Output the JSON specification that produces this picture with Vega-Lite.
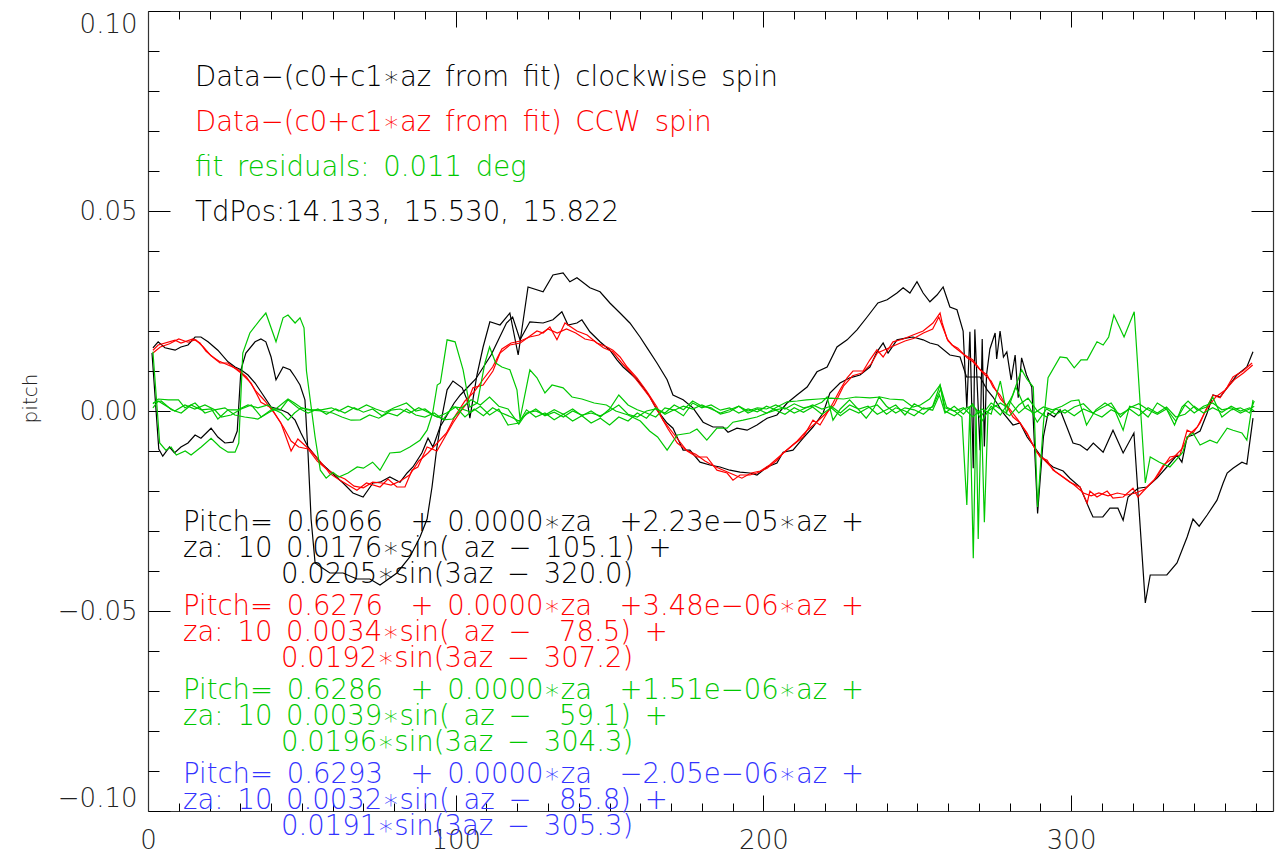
{
"$schema":"https://vega.github.io/schema/vega-lite/v6.json",
"width":1125,"height":800,
"autosize":{"type":"none"},
"padding":{"left":148,"top":11,"right":8,"bottom":49},
"background":"white",
"config":{"view":{"stroke":null},"font":"DejaVu Sans"},
"resolve":{"axis":{"x":"independent","y":"independent"}},
"datasets":{
"lines":[
{"s":"cw_1","x":1.6,"y":0.0158},{"s":"cw_1","x":3.3,"y":0.0173},{"s":"cw_1","x":5.5,"y":0.0158},{"s":"cw_1","x":8.8,"y":0.0152},{"s":"cw_1","x":10.7,"y":0.016},{"s":"cw_1","x":13,"y":0.0165},{"s":"cw_1","x":15.3,"y":0.0185},{"s":"cw_1","x":17.2,"y":0.0185},{"s":"cw_1","x":19.5,"y":0.0173},{"s":"cw_1","x":22.7,"y":0.0152},{"s":"cw_1","x":26,"y":0.0123},{"s":"cw_1","x":28.3,"y":0.011},{"s":"cw_1","x":30.2,"y":0.0103},{"s":"cw_1","x":32.5,"y":0.009},{"s":"cw_1","x":34.8,"y":0.007},{"s":"cw_1","x":37.4,"y":0.004},{"s":"cw_1","x":40,"y":0.001},{"s":"cw_1","x":43.2,"y":0.0003},{"s":"cw_1","x":45.5,"y":-0.0005},{"s":"cw_1","x":47.8,"y":-0.0023},{"s":"cw_1","x":49.7,"y":-0.0055},{"s":"cw_1","x":52,"y":-0.009},{"s":"cw_1","x":56.2,"y":-0.013},{"s":"cw_1","x":59.5,"y":-0.0153},{"s":"cw_1","x":63.4,"y":-0.018},{"s":"cw_1","x":66.6,"y":-0.0205},{"s":"cw_1","x":69.9,"y":-0.0215},{"s":"cw_1","x":73.1,"y":-0.018},{"s":"cw_1","x":75.4,"y":-0.0178},{"s":"cw_1","x":78.6,"y":-0.0165},{"s":"cw_1","x":81.9,"y":-0.0178},{"s":"cw_1","x":84.2,"y":-0.0155},{"s":"cw_1","x":86.1,"y":-0.014},{"s":"cw_1","x":89,"y":-0.0105},{"s":"cw_1","x":91,"y":-0.0068},{"s":"cw_1","x":92.6,"y":-0.009},{"s":"cw_1","x":94.9,"y":-0.004},{"s":"cw_1","x":97.2,"y":-0.001},{"s":"cw_1","x":99.5,"y":0.002},{"s":"cw_1","x":101.5,"y":0.004},{"s":"cw_1","x":104,"y":0.006},{"s":"cw_1","x":106.5,"y":0.008},{"s":"cw_1","x":109,"y":0.011},{"s":"cw_1","x":111.5,"y":0.014},{"s":"cw_1","x":114,"y":0.018},{"s":"cw_1","x":116.5,"y":0.022},{"s":"cw_1","x":118.5,"y":0.0235},{"s":"cw_1","x":120.9,"y":0.0178},{"s":"cw_1","x":124.1,"y":0.0223},{"s":"cw_1","x":128.4,"y":0.022},{"s":"cw_1","x":131.6,"y":0.0228},{"s":"cw_1","x":134.5,"y":0.0248},{"s":"cw_1","x":136.5,"y":0.0215},{"s":"cw_1","x":139.4,"y":0.022},{"s":"cw_1","x":141,"y":0.0228},{"s":"cw_1","x":143.6,"y":0.0198},{"s":"cw_1","x":146.9,"y":0.0173},{"s":"cw_1","x":150.1,"y":0.0152},{"s":"cw_1","x":152.4,"y":0.0128},{"s":"cw_1","x":154.4,"y":0.011},{"s":"cw_1","x":156.6,"y":0.0095},{"s":"cw_1","x":158.7,"y":0.008},{"s":"cw_1","x":160.9,"y":0.006},{"s":"cw_1","x":163.1,"y":0.0035},{"s":"cw_1","x":165.4,"y":0.0003},{"s":"cw_1","x":168.7,"y":-0.003},{"s":"cw_1","x":170.6,"y":-0.0043},{"s":"cw_1","x":173.9,"y":-0.0098},{"s":"cw_1","x":176.1,"y":-0.0098},{"s":"cw_1","x":179.4,"y":-0.0128},{"s":"cw_1","x":182.6,"y":-0.0135},{"s":"cw_1","x":185.9,"y":-0.014},{"s":"cw_1","x":189.1,"y":-0.0148},{"s":"cw_1","x":192.4,"y":-0.0153},{"s":"cw_1","x":195.6,"y":-0.0155},{"s":"cw_1","x":197.9,"y":-0.016},{"s":"cw_1","x":201.2,"y":-0.014},{"s":"cw_1","x":204.4,"y":-0.013},{"s":"cw_1","x":206.4,"y":-0.0103},{"s":"cw_1","x":209.6,"y":-0.0098},{"s":"cw_1","x":212.9,"y":-0.0068},{"s":"cw_1","x":216.1,"y":-0.004},{"s":"cw_1","x":219.4,"y":-0.0005},{"s":"cw_1","x":221.6,"y":0.0045},{"s":"cw_1","x":224.9,"y":0.007},{"s":"cw_1","x":228.1,"y":0.0083},{"s":"cw_1","x":231.4,"y":0.009},{"s":"cw_1","x":234.6,"y":0.011},{"s":"cw_1","x":236.9,"y":0.0148},{"s":"cw_1","x":238.9,"y":0.017},{"s":"cw_1","x":240.5,"y":0.0145},{"s":"cw_1","x":243.4,"y":0.0178},{"s":"cw_1","x":246.7,"y":0.0183},{"s":"cw_1","x":248.6,"y":0.0185},{"s":"cw_1","x":251.9,"y":0.0178},{"s":"cw_1","x":254.1,"y":0.017},{"s":"cw_1","x":256.7,"y":0.0165},{"s":"cw_1","x":260.6,"y":0.014},{"s":"cw_1","x":263.9,"y":0.0135},{"s":"cw_1","x":266,"y":0.0085},{"s":"cw_1","x":268,"y":0.0085},{"s":"cw_1","x":270.4,"y":0.0085},{"s":"cw_1","x":272.7,"y":0.0053},{"s":"cw_1","x":274.6,"y":0.0035},{"s":"cw_1","x":277.9,"y":-0.0005},{"s":"cw_1","x":281.1,"y":-0.0035},{"s":"cw_1","x":283.4,"y":-0.003},{"s":"cw_1","x":285.7,"y":-0.0065},{"s":"cw_1","x":287.6,"y":-0.0085},{"s":"cw_1","x":289.9,"y":-0.011},{"s":"cw_1","x":292.2,"y":-0.0128},{"s":"cw_1","x":294.1,"y":-0.014},{"s":"cw_1","x":297.4,"y":-0.015},{"s":"cw_1","x":299.6,"y":-0.0168},{"s":"cw_1","x":302.9,"y":-0.019},{"s":"cw_1","x":306.1,"y":-0.0248},{"s":"cw_1","x":307.1,"y":-0.0265},{"s":"cw_1","x":310.3,"y":-0.0265},{"s":"cw_1","x":312.6,"y":-0.0243},{"s":"cw_1","x":315.2,"y":-0.0243},{"s":"cw_1","x":316.9,"y":-0.0273},{"s":"cw_1","x":318.5,"y":-0.0215},{"s":"cw_1","x":321.7,"y":-0.0193},{"s":"cw_1","x":324.7,"y":-0.019},{"s":"cw_1","x":327.9,"y":-0.0168},{"s":"cw_1","x":331.1,"y":-0.014},{"s":"cw_1","x":334.4,"y":-0.011},{"s":"cw_1","x":336,"y":-0.0128},{"s":"cw_1","x":337.7,"y":-0.0065},{"s":"cw_1","x":339.6,"y":-0.006},{"s":"cw_1","x":341.9,"y":-0.005},{"s":"cw_1","x":344.2,"y":-0.0005},{"s":"cw_1","x":346.1,"y":0.004},{"s":"cw_1","x":348.4,"y":0.0035},{"s":"cw_1","x":350.7,"y":0.0058},{"s":"cw_1","x":353.9,"y":0.009},{"s":"cw_1","x":357.1,"y":0.011},{"s":"cw_1","x":359.1,"y":0.0148},
{"s":"cw_2","x":1.3,"y":0.0145},{"s":"cw_2","x":3.5,"y":-0.0095},{"s":"cw_2","x":4.8,"y":-0.0113},{"s":"cw_2","x":7,"y":-0.009},{"s":"cw_2","x":8.6,"y":-0.0105},{"s":"cw_2","x":10.7,"y":-0.009},{"s":"cw_2","x":13,"y":-0.008},{"s":"cw_2","x":15.3,"y":-0.006},{"s":"cw_2","x":17.2,"y":-0.0068},{"s":"cw_2","x":20.5,"y":-0.0043},{"s":"cw_2","x":22.7,"y":-0.0065},{"s":"cw_2","x":25,"y":-0.008},{"s":"cw_2","x":27.6,"y":-0.0078},{"s":"cw_2","x":29,"y":-0.005},{"s":"cw_2","x":30.2,"y":0.0103},{"s":"cw_2","x":31.8,"y":0.0145},{"s":"cw_2","x":34.8,"y":0.0173},{"s":"cw_2","x":36.7,"y":0.018},{"s":"cw_2","x":38.3,"y":0.0173},{"s":"cw_2","x":40,"y":0.0135},{"s":"cw_2","x":41.6,"y":0.0078},{"s":"cw_2","x":43.9,"y":0.011},{"s":"cw_2","x":46.2,"y":0.0103},{"s":"cw_2","x":47.8,"y":0.0085},{"s":"cw_2","x":49.4,"y":0.0065},{"s":"cw_2","x":51,"y":0.0028},{"s":"cw_2","x":52,"y":-0.0105},{"s":"cw_2","x":53,"y":-0.027},{"s":"cw_2","x":54.3,"y":-0.038},{"s":"cw_2","x":56.2,"y":-0.039},{"s":"cw_2","x":59.1,"y":-0.0405},{"s":"cw_2","x":63.4,"y":-0.0405},{"s":"cw_2","x":67.9,"y":-0.042},{"s":"cw_2","x":72.1,"y":-0.042},{"s":"cw_2","x":75.4,"y":-0.0435},{"s":"cw_2","x":80.9,"y":-0.0405},{"s":"cw_2","x":85.1,"y":-0.0365},{"s":"cw_2","x":88.4,"y":-0.0315},{"s":"cw_2","x":90.7,"y":-0.027},{"s":"cw_2","x":92.3,"y":-0.019},{"s":"cw_2","x":93.9,"y":-0.009},{"s":"cw_2","x":95.5,"y":-0.0015},{"s":"cw_2","x":97.2,"y":0.0053},{"s":"cw_2","x":99.1,"y":0.0075},{"s":"cw_2","x":102.1,"y":0.0058},{"s":"cw_2","x":103.7,"y":0.0028},{"s":"cw_2","x":104.6,"y":-0.0018},{"s":"cw_2","x":106.9,"y":0.009},{"s":"cw_2","x":108.9,"y":0.016},{"s":"cw_2","x":111.1,"y":0.0223},{"s":"cw_2","x":114.4,"y":0.0215},{"s":"cw_2","x":117.6,"y":0.0245},{"s":"cw_2","x":120.3,"y":0.014},{"s":"cw_2","x":123.5,"y":0.031},{"s":"cw_2","x":128.4,"y":0.0298},{"s":"cw_2","x":131.6,"y":0.034},{"s":"cw_2","x":134.9,"y":0.0345},{"s":"cw_2","x":137.1,"y":0.0323},{"s":"cw_2","x":139.4,"y":0.0333},{"s":"cw_2","x":143.6,"y":0.0308},{"s":"cw_2","x":146.9,"y":0.0298},{"s":"cw_2","x":150.1,"y":0.027},{"s":"cw_2","x":153.4,"y":0.0245},{"s":"cw_2","x":156.6,"y":0.022},{"s":"cw_2","x":159.9,"y":0.0185},{"s":"cw_2","x":162.2,"y":0.0158},{"s":"cw_2","x":165.4,"y":0.012},{"s":"cw_2","x":168.7,"y":0.0078},{"s":"cw_2","x":170.6,"y":0.004},{"s":"cw_2","x":173.9,"y":0.0028},{"s":"cw_2","x":177.1,"y":0.0008},{"s":"cw_2","x":180.4,"y":-0.0028},{"s":"cw_2","x":183.6,"y":-0.004},{"s":"cw_2","x":186.9,"y":-0.004},{"s":"cw_2","x":188.5,"y":-0.0053},{"s":"cw_2","x":191.4,"y":-0.0043},{"s":"cw_2","x":194.7,"y":-0.0048},{"s":"cw_2","x":197.9,"y":-0.0035},{"s":"cw_2","x":201.2,"y":-0.0018},{"s":"cw_2","x":204.4,"y":-0.001},{"s":"cw_2","x":207.7,"y":0.002},{"s":"cw_2","x":210.9,"y":0.004},{"s":"cw_2","x":214.2,"y":0.006},{"s":"cw_2","x":217.4,"y":0.0098},{"s":"cw_2","x":220.7,"y":0.011},{"s":"cw_2","x":223.9,"y":0.016},{"s":"cw_2","x":227.2,"y":0.0178},{"s":"cw_2","x":230.4,"y":0.0203},{"s":"cw_2","x":233.7,"y":0.0235},{"s":"cw_2","x":237.2,"y":0.027},{"s":"cw_2","x":240.2,"y":0.0278},{"s":"cw_2","x":243.4,"y":0.0295},{"s":"cw_2","x":245.4,"y":0.0308},{"s":"cw_2","x":247.6,"y":0.0295},{"s":"cw_2","x":249.9,"y":0.0323},{"s":"cw_2","x":251.9,"y":0.0295},{"s":"cw_2","x":254.1,"y":0.0273},{"s":"cw_2","x":256.4,"y":0.029},{"s":"cw_2","x":258.4,"y":0.031},{"s":"cw_2","x":260.6,"y":0.026},{"s":"cw_2","x":262.9,"y":0.0253},{"s":"cw_2","x":264.9,"y":0.02},{"s":"cw_2","x":266.1,"y":0.0007},{"s":"cw_2","x":267.1,"y":0.0198},{"s":"cw_2","x":268.2,"y":-0.0143},{"s":"cw_2","x":268.7,"y":0.0204},{"s":"cw_2","x":270.4,"y":-0.0098},{"s":"cw_2","x":271.1,"y":0.018},{"s":"cw_2","x":271.8,"y":-0.0089},{"s":"cw_2","x":272.5,"y":0.009},{"s":"cw_2","x":273.6,"y":0.0155},{"s":"cw_2","x":275.3,"y":0.0195},{"s":"cw_2","x":275.8,"y":0.013},{"s":"cw_2","x":276.9,"y":0.02},{"s":"cw_2","x":278,"y":0.0135},{"s":"cw_2","x":279.1,"y":0.0148},{"s":"cw_2","x":280.5,"y":0.0078},{"s":"cw_2","x":281.8,"y":0.014},{"s":"cw_2","x":282.8,"y":0.0033},{"s":"cw_2","x":283.9,"y":0.0133},{"s":"cw_2","x":285.5,"y":0.009},{"s":"cw_2","x":287.2,"y":0.006},{"s":"cw_2","x":289.1,"y":-0.0256},{"s":"cw_2","x":291,"y":-0.0064},{"s":"cw_2","x":292.5,"y":-0.0005},{"s":"cw_2","x":294.5,"y":-0.0015},{"s":"cw_2","x":296.4,"y":0.0003},{"s":"cw_2","x":298.6,"y":-0.004},{"s":"cw_2","x":300.6,"y":-0.008},{"s":"cw_2","x":302.9,"y":-0.0085},{"s":"cw_2","x":305.2,"y":-0.0098},{"s":"cw_2","x":307.2,"y":-0.008},{"s":"cw_2","x":310.4,"y":-0.0103},{"s":"cw_2","x":313.6,"y":-0.0048},{"s":"cw_2","x":316.9,"y":-0.0105},{"s":"cw_2","x":320.4,"y":-0.0055},{"s":"cw_2","x":324.1,"y":-0.048},{"s":"cw_2","x":325.7,"y":-0.041},{"s":"cw_2","x":331.1,"y":-0.041},{"s":"cw_2","x":334.4,"y":-0.038},{"s":"cw_2","x":337.7,"y":-0.0315},{"s":"cw_2","x":339.6,"y":-0.027},{"s":"cw_2","x":341.6,"y":-0.0288},{"s":"cw_2","x":344.2,"y":-0.026},{"s":"cw_2","x":347.4,"y":-0.0223},{"s":"cw_2","x":349.4,"y":-0.018},{"s":"cw_2","x":350.7,"y":-0.0155},{"s":"cw_2","x":352.6,"y":-0.0143},{"s":"cw_2","x":355.5,"y":-0.0128},{"s":"cw_2","x":357.1,"y":-0.0133},{"s":"cw_2","x":359.1,"y":-0.0018},
{"s":"ccw_1","x":1.6,"y":0.0152},{"s":"ccw_1","x":3.3,"y":0.0165},{"s":"ccw_1","x":8.8,"y":0.0177},{"s":"ccw_1","x":10.7,"y":0.017},{"s":"ccw_1","x":14.6,"y":0.018},{"s":"ccw_1","x":16.9,"y":0.017},{"s":"ccw_1","x":18.8,"y":0.015},{"s":"ccw_1","x":21.8,"y":0.013},{"s":"ccw_1","x":23.4,"y":0.012},{"s":"ccw_1","x":26,"y":0.012},{"s":"ccw_1","x":30.2,"y":0.0095},{"s":"ccw_1","x":33.5,"y":0.007},{"s":"ccw_1","x":36.7,"y":0.0022},{"s":"ccw_1","x":40,"y":0.0008},{"s":"ccw_1","x":43.2,"y":-0.003},{"s":"ccw_1","x":46.5,"y":-0.01},{"s":"ccw_1","x":48.7,"y":-0.007},{"s":"ccw_1","x":53,"y":-0.01},{"s":"ccw_1","x":57.5,"y":-0.014},{"s":"ccw_1","x":59,"y":-0.0156},{"s":"ccw_1","x":62.4,"y":-0.0173},{"s":"ccw_1","x":67.9,"y":-0.0198},{"s":"ccw_1","x":71,"y":-0.018},{"s":"ccw_1","x":75.4,"y":-0.019},{"s":"ccw_1","x":78,"y":-0.017},{"s":"ccw_1","x":80.9,"y":-0.019},{"s":"ccw_1","x":83.5,"y":-0.019},{"s":"ccw_1","x":85.8,"y":-0.0148},{"s":"ccw_1","x":87.7,"y":-0.014},{"s":"ccw_1","x":90.7,"y":-0.009},{"s":"ccw_1","x":93.9,"y":-0.01},{"s":"ccw_1","x":96.5,"y":-0.0065},{"s":"ccw_1","x":99.1,"y":-0.003},{"s":"ccw_1","x":101.4,"y":-0.0003},{"s":"ccw_1","x":103.7,"y":0.002},{"s":"ccw_1","x":105.6,"y":0.0058},{"s":"ccw_1","x":108.9,"y":0.0065},{"s":"ccw_1","x":112.1,"y":0.01},{"s":"ccw_1","x":114.4,"y":0.0145},{"s":"ccw_1","x":117.6,"y":0.0165},{"s":"ccw_1","x":121,"y":0.017},{"s":"ccw_1","x":126.4,"y":0.02},{"s":"ccw_1","x":128.4,"y":0.0195},{"s":"ccw_1","x":130.6,"y":0.021},{"s":"ccw_1","x":132.9,"y":0.0178},{"s":"ccw_1","x":135.5,"y":0.022},{"s":"ccw_1","x":139.4,"y":0.02},{"s":"ccw_1","x":142.7,"y":0.019},{"s":"ccw_1","x":145.9,"y":0.017},{"s":"ccw_1","x":149.2,"y":0.016},{"s":"ccw_1","x":151.1,"y":0.0152},{"s":"ccw_1","x":153.4,"y":0.0135},{"s":"ccw_1","x":155.7,"y":0.011},{"s":"ccw_1","x":158.9,"y":0.0083},{"s":"ccw_1","x":162.2,"y":0.0048},{"s":"ccw_1","x":165.4,"y":0.001},{"s":"ccw_1","x":167.4,"y":-0.0023},{"s":"ccw_1","x":170.6,"y":-0.0055},{"s":"ccw_1","x":175.2,"y":-0.01},{"s":"ccw_1","x":178.4,"y":-0.0115},{"s":"ccw_1","x":181.6,"y":-0.0115},{"s":"ccw_1","x":184.9,"y":-0.0148},{"s":"ccw_1","x":188.2,"y":-0.0155},{"s":"ccw_1","x":190.1,"y":-0.0173},{"s":"ccw_1","x":192.4,"y":-0.016},{"s":"ccw_1","x":195.6,"y":-0.016},{"s":"ccw_1","x":197.9,"y":-0.0155},{"s":"ccw_1","x":201.2,"y":-0.0143},{"s":"ccw_1","x":204.4,"y":-0.0123},{"s":"ccw_1","x":206.4,"y":-0.0105},{"s":"ccw_1","x":209.6,"y":-0.0085},{"s":"ccw_1","x":212.9,"y":-0.0065},{"s":"ccw_1","x":216.1,"y":-0.0023},{"s":"ccw_1","x":218.4,"y":-0.0035},{"s":"ccw_1","x":220.7,"y":-0.0005},{"s":"ccw_1","x":222.6,"y":0.002},{"s":"ccw_1","x":224.9,"y":0.0053},{"s":"ccw_1","x":227.2,"y":0.0083},{"s":"ccw_1","x":229.1,"y":0.01},{"s":"ccw_1","x":232.4,"y":0.01},{"s":"ccw_1","x":234.6,"y":0.0128},{"s":"ccw_1","x":236.9,"y":0.0153},{"s":"ccw_1","x":238.9,"y":0.0135},{"s":"ccw_1","x":242.1,"y":0.0173},{"s":"ccw_1","x":245.4,"y":0.018},{"s":"ccw_1","x":248.6,"y":0.019},{"s":"ccw_1","x":251.9,"y":0.02},{"s":"ccw_1","x":255.1,"y":0.022},{"s":"ccw_1","x":257.4,"y":0.0245},{"s":"ccw_1","x":258.1,"y":0.022},{"s":"ccw_1","x":259.7,"y":0.018},{"s":"ccw_1","x":261.3,"y":0.0165},{"s":"ccw_1","x":263.2,"y":0.0157},{"s":"ccw_1","x":266.2,"y":0.0133},{"s":"ccw_1","x":268.1,"y":0.0123},{"s":"ccw_1","x":270.4,"y":0.0103},{"s":"ccw_1","x":272.7,"y":0.009},{"s":"ccw_1","x":274.6,"y":0.006},{"s":"ccw_1","x":276.9,"y":0.004},{"s":"ccw_1","x":279.2,"y":0.001},{"s":"ccw_1","x":281.1,"y":-0.0015},{"s":"ccw_1","x":283.4,"y":-0.003},{"s":"ccw_1","x":285.7,"y":-0.0055},{"s":"ccw_1","x":287.6,"y":-0.0085},{"s":"ccw_1","x":289.9,"y":-0.0115},{"s":"ccw_1","x":292.2,"y":-0.0123},{"s":"ccw_1","x":294.1,"y":-0.0148},{"s":"ccw_1","x":296.4,"y":-0.016},{"s":"ccw_1","x":299.6,"y":-0.0178},{"s":"ccw_1","x":302.9,"y":-0.019},{"s":"ccw_1","x":305.2,"y":-0.023},{"s":"ccw_1","x":306.1,"y":-0.02},{"s":"ccw_1","x":308.4,"y":-0.0215},{"s":"ccw_1","x":311.7,"y":-0.02},{"s":"ccw_1","x":313.6,"y":-0.0218},{"s":"ccw_1","x":316.9,"y":-0.0215},{"s":"ccw_1","x":320.1,"y":-0.0193},{"s":"ccw_1","x":321.7,"y":-0.0215},{"s":"ccw_1","x":324.7,"y":-0.019},{"s":"ccw_1","x":327.9,"y":-0.0165},{"s":"ccw_1","x":329.9,"y":-0.014},{"s":"ccw_1","x":332.1,"y":-0.0115},{"s":"ccw_1","x":335.4,"y":-0.011},{"s":"ccw_1","x":337.7,"y":-0.0048},{"s":"ccw_1","x":339.6,"y":-0.0055},{"s":"ccw_1","x":341.9,"y":-0.003},{"s":"ccw_1","x":344.2,"y":0.001},{"s":"ccw_1","x":346.1,"y":0.004},{"s":"ccw_1","x":348.4,"y":0.0033},{"s":"ccw_1","x":350.7,"y":0.006},{"s":"ccw_1","x":352.6,"y":0.0085},{"s":"ccw_1","x":355.8,"y":0.01},{"s":"ccw_1","x":358.8,"y":0.012},
{"s":"ccw_2","x":1.6,"y":0.0145},{"s":"ccw_2","x":4,"y":0.016},{"s":"ccw_2","x":7,"y":0.0168},{"s":"ccw_2","x":10,"y":0.018},{"s":"ccw_2","x":13,"y":0.0172},{"s":"ccw_2","x":15.5,"y":0.0178},{"s":"ccw_2","x":18,"y":0.016},{"s":"ccw_2","x":20.5,"y":0.0138},{"s":"ccw_2","x":23,"y":0.0125},{"s":"ccw_2","x":26,"y":0.0115},{"s":"ccw_2","x":29,"y":0.0105},{"s":"ccw_2","x":32,"y":0.0085},{"s":"ccw_2","x":35,"y":0.005},{"s":"ccw_2","x":38,"y":0.0025},{"s":"ccw_2","x":41,"y":-0.0005},{"s":"ccw_2","x":44,"y":-0.004},{"s":"ccw_2","x":46.5,"y":-0.0075},{"s":"ccw_2","x":49,"y":-0.009},{"s":"ccw_2","x":52,"y":-0.0095},{"s":"ccw_2","x":55,"y":-0.0125},{"s":"ccw_2","x":58,"y":-0.0145},{"s":"ccw_2","x":61,"y":-0.016},{"s":"ccw_2","x":64,"y":-0.017},{"s":"ccw_2","x":67,"y":-0.0188},{"s":"ccw_2","x":70,"y":-0.0192},{"s":"ccw_2","x":73,"y":-0.0178},{"s":"ccw_2","x":76,"y":-0.018},{"s":"ccw_2","x":79,"y":-0.0185},{"s":"ccw_2","x":82,"y":-0.0175},{"s":"ccw_2","x":85,"y":-0.016},{"s":"ccw_2","x":88,"y":-0.0125},{"s":"ccw_2","x":91,"y":-0.0105},{"s":"ccw_2","x":94,"y":-0.008},{"s":"ccw_2","x":97,"y":-0.0055},{"s":"ccw_2","x":100,"y":-0.001},{"s":"ccw_2","x":103,"y":0.0025},{"s":"ccw_2","x":106,"y":0.0048},{"s":"ccw_2","x":109,"y":0.008},{"s":"ccw_2","x":112,"y":0.011},{"s":"ccw_2","x":115,"y":0.0155},{"s":"ccw_2","x":118,"y":0.017},{"s":"ccw_2","x":121,"y":0.0175},{"s":"ccw_2","x":124,"y":0.0185},{"s":"ccw_2","x":127,"y":0.019},{"s":"ccw_2","x":130,"y":0.0205},{"s":"ccw_2","x":133,"y":0.0195},{"s":"ccw_2","x":136,"y":0.0205},{"s":"ccw_2","x":139,"y":0.0195},{"s":"ccw_2","x":142,"y":0.018},{"s":"ccw_2","x":145,"y":0.0175},{"s":"ccw_2","x":148,"y":0.0158},{"s":"ccw_2","x":151,"y":0.0148},{"s":"ccw_2","x":154,"y":0.012},{"s":"ccw_2","x":157,"y":0.0095},{"s":"ccw_2","x":160,"y":0.0065},{"s":"ccw_2","x":163,"y":0.0035},{"s":"ccw_2","x":166,"y":-0.0005},{"s":"ccw_2","x":169,"y":-0.0045},{"s":"ccw_2","x":172,"y":-0.008},{"s":"ccw_2","x":175,"y":-0.0098},{"s":"ccw_2","x":178,"y":-0.0108},{"s":"ccw_2","x":181,"y":-0.0125},{"s":"ccw_2","x":184,"y":-0.0138},{"s":"ccw_2","x":187,"y":-0.0148},{"s":"ccw_2","x":190,"y":-0.0158},{"s":"ccw_2","x":193,"y":-0.0168},{"s":"ccw_2","x":196,"y":-0.0155},{"s":"ccw_2","x":199,"y":-0.015},{"s":"ccw_2","x":202,"y":-0.0135},{"s":"ccw_2","x":205,"y":-0.0115},{"s":"ccw_2","x":208,"y":-0.0095},{"s":"ccw_2","x":211,"y":-0.0075},{"s":"ccw_2","x":214,"y":-0.005},{"s":"ccw_2","x":217,"y":-0.003},{"s":"ccw_2","x":220,"y":-0.0008},{"s":"ccw_2","x":223,"y":0.0015},{"s":"ccw_2","x":226,"y":0.0062},{"s":"ccw_2","x":229,"y":0.0088},{"s":"ccw_2","x":232,"y":0.0095},{"s":"ccw_2","x":235,"y":0.0118},{"s":"ccw_2","x":237,"y":0.0145},{"s":"ccw_2","x":240,"y":0.0155},{"s":"ccw_2","x":243,"y":0.0165},{"s":"ccw_2","x":246,"y":0.0175},{"s":"ccw_2","x":249,"y":0.0182},{"s":"ccw_2","x":252,"y":0.0195},{"s":"ccw_2","x":255,"y":0.0205},{"s":"ccw_2","x":257,"y":0.0235},{"s":"ccw_2","x":258.5,"y":0.0205},{"s":"ccw_2","x":260,"y":0.0175},{"s":"ccw_2","x":262,"y":0.016},{"s":"ccw_2","x":265,"y":0.0142},{"s":"ccw_2","x":268,"y":0.0128},{"s":"ccw_2","x":271,"y":0.0098},{"s":"ccw_2","x":274,"y":0.0075},{"s":"ccw_2","x":277,"y":0.003},{"s":"ccw_2","x":280,"y":0.0005},{"s":"ccw_2","x":283,"y":-0.0025},{"s":"ccw_2","x":286,"y":-0.0062},{"s":"ccw_2","x":289,"y":-0.0105},{"s":"ccw_2","x":292,"y":-0.0128},{"s":"ccw_2","x":295,"y":-0.0152},{"s":"ccw_2","x":298,"y":-0.0168},{"s":"ccw_2","x":301,"y":-0.0185},{"s":"ccw_2","x":304,"y":-0.0205},{"s":"ccw_2","x":306.5,"y":-0.0212},{"s":"ccw_2","x":309,"y":-0.0205},{"s":"ccw_2","x":312,"y":-0.0212},{"s":"ccw_2","x":315,"y":-0.0205},{"s":"ccw_2","x":318,"y":-0.021},{"s":"ccw_2","x":321,"y":-0.0205},{"s":"ccw_2","x":324,"y":-0.0195},{"s":"ccw_2","x":327,"y":-0.0172},{"s":"ccw_2","x":330,"y":-0.0135},{"s":"ccw_2","x":333,"y":-0.0118},{"s":"ccw_2","x":336,"y":-0.0095},{"s":"ccw_2","x":338.5,"y":-0.0058},{"s":"ccw_2","x":341,"y":-0.004},{"s":"ccw_2","x":344,"y":0.0005},{"s":"ccw_2","x":347,"y":0.0035},{"s":"ccw_2","x":350,"y":0.0052},{"s":"ccw_2","x":353,"y":0.0078},{"s":"ccw_2","x":356,"y":0.0095},{"s":"ccw_2","x":359,"y":0.0115},
{"s":"res_1","x":1.6,"y":0.0018},{"s":"res_1","x":3.3,"y":0.003},{"s":"res_1","x":6.6,"y":0.0028},{"s":"res_1","x":9.9,"y":0.0028},{"s":"res_1","x":12,"y":0.0008},{"s":"res_1","x":15.3,"y":0.002},{"s":"res_1","x":18.5,"y":-0.0005},{"s":"res_1","x":21.7,"y":0.0003},{"s":"res_1","x":25,"y":0.0008},{"s":"res_1","x":28.2,"y":-0.001},{"s":"res_1","x":31.4,"y":-0.0015},{"s":"res_1","x":35.7,"y":-0.002},{"s":"res_1","x":39,"y":-0.0005},{"s":"res_1","x":42,"y":0.0008},{"s":"res_1","x":45.5,"y":0.003},{"s":"res_1","x":47.6,"y":0.002},{"s":"res_1","x":49.8,"y":0.0008},{"s":"res_1","x":53,"y":0.0003},{"s":"res_1","x":56.3,"y":0.0003},{"s":"res_1","x":59.6,"y":0.0008},{"s":"res_1","x":62,"y":0},{"s":"res_1","x":65,"y":0.0012},{"s":"res_1","x":68,"y":0.0003},{"s":"res_1","x":71,"y":0.0015},{"s":"res_1","x":74,"y":0.0005},{"s":"res_1","x":77,"y":-0.0003},{"s":"res_1","x":80,"y":0.0008},{"s":"res_1","x":84,"y":0.002},{"s":"res_1","x":87,"y":0},{"s":"res_1","x":90,"y":0.0005},{"s":"res_1","x":93,"y":-0.0012},{"s":"res_1","x":96,"y":-0.002},{"s":"res_1","x":99,"y":0.001},{"s":"res_1","x":102,"y":0.0008},{"s":"res_1","x":105,"y":0.0028},{"s":"res_1","x":108,"y":0.0015},{"s":"res_1","x":111,"y":0.0035},{"s":"res_1","x":114,"y":0.0012},{"s":"res_1","x":117,"y":0.0005},{"s":"res_1","x":120.5,"y":-0.0033},{"s":"res_1","x":123,"y":-0.0005},{"s":"res_1","x":126,"y":0},{"s":"res_1","x":129,"y":-0.001},{"s":"res_1","x":132,"y":0.0003},{"s":"res_1","x":135,"y":-0.0008},{"s":"res_1","x":138,"y":0.0005},{"s":"res_1","x":141,"y":-0.0012},{"s":"res_1","x":144,"y":0},{"s":"res_1","x":147,"y":-0.0015},{"s":"res_1","x":150,"y":0.0005},{"s":"res_1","x":153,"y":0.004},{"s":"res_1","x":156,"y":0.0015},{"s":"res_1","x":159,"y":0.0003},{"s":"res_1","x":162,"y":-0.0005},{"s":"res_1","x":165,"y":-0.0015},{"s":"res_1","x":168,"y":0.0008},{"s":"res_1","x":171,"y":0.0002},{"s":"res_1","x":174,"y":0.0012},{"s":"res_1","x":177,"y":0.0005},{"s":"res_1","x":180,"y":0.0015},{"s":"res_1","x":183,"y":0.0005},{"s":"res_1","x":186,"y":-0.0005},{"s":"res_1","x":189,"y":0.0003},{"s":"res_1","x":192,"y":0.0012},{"s":"res_1","x":195,"y":0},{"s":"res_1","x":198,"y":0.0008},{"s":"res_1","x":201,"y":0.0005},{"s":"res_1","x":204,"y":0.0015},{"s":"res_1","x":207,"y":0.0005},{"s":"res_1","x":210,"y":0.0018},{"s":"res_1","x":213,"y":0.0008},{"s":"res_1","x":216,"y":0.0012},{"s":"res_1","x":219,"y":0.0022},{"s":"res_1","x":220.7,"y":0.0035},{"s":"res_1","x":222.6,"y":-0.0023},{"s":"res_1","x":225,"y":0.0005},{"s":"res_1","x":228,"y":0.0028},{"s":"res_1","x":231,"y":0.0003},{"s":"res_1","x":233.4,"y":-0.0018},{"s":"res_1","x":236,"y":0.0008},{"s":"res_1","x":237.6,"y":0.0035},{"s":"res_1","x":240,"y":0.0012},{"s":"res_1","x":243,"y":-0.0005},{"s":"res_1","x":246,"y":0.0008},{"s":"res_1","x":249,"y":0.0003},{"s":"res_1","x":252,"y":-0.0008},{"s":"res_1","x":255,"y":0.0012},{"s":"res_1","x":257.4,"y":0.0065},{"s":"res_1","x":259,"y":0.0008},{"s":"res_1","x":262,"y":0},{"s":"res_1","x":265,"y":0.0008},{"s":"res_1","x":268,"y":-0.0015},{"s":"res_1","x":271,"y":0.0005},{"s":"res_1","x":274,"y":-0.0008},{"s":"res_1","x":277,"y":0.0075},{"s":"res_1","x":279,"y":-0.0005},{"s":"res_1","x":282,"y":0.006},{"s":"res_1","x":285,"y":0.0008},{"s":"res_1","x":288,"y":-0.0005},{"s":"res_1","x":291,"y":0.001},{"s":"res_1","x":294,"y":0.0003},{"s":"res_1","x":297,"y":0.0012},{"s":"res_1","x":300,"y":0.0025},{"s":"res_1","x":302.5,"y":0.0028},{"s":"res_1","x":305,"y":-0.0035},{"s":"res_1","x":308,"y":0.0003},{"s":"res_1","x":311,"y":0.002},{"s":"res_1","x":314,"y":0.0005},{"s":"res_1","x":316.9,"y":-0.0048},{"s":"res_1","x":319,"y":0.0012},{"s":"res_1","x":322,"y":0.0005},{"s":"res_1","x":325,"y":-0.0015},{"s":"res_1","x":328,"y":0.002},{"s":"res_1","x":331,"y":0.0005},{"s":"res_1","x":333.6,"y":-0.0035},{"s":"res_1","x":336,"y":0.001},{"s":"res_1","x":338,"y":0.0025},{"s":"res_1","x":341,"y":0.0002},{"s":"res_1","x":344,"y":0.001},{"s":"res_1","x":346,"y":0.0035},{"s":"res_1","x":349,"y":-0.0015},{"s":"res_1","x":352,"y":0.0003},{"s":"res_1","x":355,"y":0.0008},{"s":"res_1","x":358,"y":-0.0005},{"s":"res_1","x":359.5,"y":0.0025},
{"s":"res_2","x":1.6,"y":0.002},{"s":"res_2","x":4.3,"y":0.0025},{"s":"res_2","x":7.6,"y":0.0003},{"s":"res_2","x":10.8,"y":-0.0005},{"s":"res_2","x":14,"y":0.0015},{"s":"res_2","x":17.3,"y":0.0003},{"s":"res_2","x":20.6,"y":0.0005},{"s":"res_2","x":22.7,"y":-0.002},{"s":"res_2","x":26,"y":0.0003},{"s":"res_2","x":29.2,"y":0.0003},{"s":"res_2","x":32.5,"y":0.0015},{"s":"res_2","x":35.7,"y":0.0008},{"s":"res_2","x":39,"y":0.0015},{"s":"res_2","x":41.1,"y":0.0003},{"s":"res_2","x":43.3,"y":-0.0005},{"s":"res_2","x":45.5,"y":-0.0023},{"s":"res_2","x":47.6,"y":-0.0005},{"s":"res_2","x":49.8,"y":0.0008},{"s":"res_2","x":52,"y":0.0003},{"s":"res_2","x":56.3,"y":0},{"s":"res_2","x":60,"y":-0.0005},{"s":"res_2","x":63,"y":-0.0015},{"s":"res_2","x":66,"y":-0.0023},{"s":"res_2","x":69,"y":-0.0022},{"s":"res_2","x":72,"y":-0.001},{"s":"res_2","x":75,"y":-0.0018},{"s":"res_2","x":78,"y":-0.0005},{"s":"res_2","x":81,"y":-0.0012},{"s":"res_2","x":84,"y":0.0005},{"s":"res_2","x":87,"y":-0.001},{"s":"res_2","x":90,"y":-0.0015},{"s":"res_2","x":93,"y":-0.0005},{"s":"res_2","x":96,"y":-0.0022},{"s":"res_2","x":99,"y":-0.002},{"s":"res_2","x":102,"y":0.0005},{"s":"res_2","x":105,"y":-0.0003},{"s":"res_2","x":108,"y":0.0012},{"s":"res_2","x":111,"y":-0.001},{"s":"res_2","x":114,"y":0.0005},{"s":"res_2","x":117,"y":-0.0035},{"s":"res_2","x":120.5,"y":-0.003},{"s":"res_2","x":123,"y":0.0003},{"s":"res_2","x":126,"y":-0.0015},{"s":"res_2","x":129,"y":-0.0005},{"s":"res_2","x":132,"y":-0.0022},{"s":"res_2","x":135,"y":-0.0008},{"s":"res_2","x":138,"y":-0.0025},{"s":"res_2","x":141,"y":-0.0012},{"s":"res_2","x":144,"y":-0.003},{"s":"res_2","x":147,"y":-0.0018},{"s":"res_2","x":150,"y":-0.0035},{"s":"res_2","x":153,"y":-0.0015},{"s":"res_2","x":156,"y":-0.0025},{"s":"res_2","x":159,"y":-0.0005},{"s":"res_2","x":162,"y":-0.0018},{"s":"res_2","x":165,"y":0.0008},{"s":"res_2","x":168,"y":-0.0008},{"s":"res_2","x":171,"y":0.0003},{"s":"res_2","x":174,"y":-0.0012},{"s":"res_2","x":177,"y":0.002},{"s":"res_2","x":180,"y":0.0008},{"s":"res_2","x":183,"y":0.0015},{"s":"res_2","x":186,"y":0.0002},{"s":"res_2","x":189,"y":0.0008},{"s":"res_2","x":192,"y":-0.0005},{"s":"res_2","x":195,"y":0.0005},{"s":"res_2","x":198,"y":-0.0002},{"s":"res_2","x":201,"y":0.0012},{"s":"res_2","x":204,"y":0.0003},{"s":"res_2","x":207,"y":0.0008},{"s":"res_2","x":210,"y":-0.0005},{"s":"res_2","x":213,"y":0.0005},{"s":"res_2","x":216,"y":0.0015},{"s":"res_2","x":219,"y":0.0005},{"s":"res_2","x":222,"y":0.0012},{"s":"res_2","x":225,"y":-0.0005},{"s":"res_2","x":228,"y":0.0015},{"s":"res_2","x":231,"y":0.0005},{"s":"res_2","x":234,"y":0.0012},{"s":"res_2","x":237,"y":-0.0008},{"s":"res_2","x":240,"y":0.0003},{"s":"res_2","x":243,"y":0.0015},{"s":"res_2","x":246,"y":-0.001},{"s":"res_2","x":249,"y":0.0018},{"s":"res_2","x":252,"y":0.0005},{"s":"res_2","x":255,"y":0.001},{"s":"res_2","x":257.6,"y":0.0055},{"s":"res_2","x":259,"y":0},{"s":"res_2","x":262,"y":-0.0012},{"s":"res_2","x":265,"y":0.0005},{"s":"res_2","x":268,"y":0.0013},{"s":"res_2","x":271,"y":-0.001},{"s":"res_2","x":274,"y":0.002},{"s":"res_2","x":277,"y":0.0005},{"s":"res_2","x":280,"y":-0.0012},{"s":"res_2","x":283,"y":0.0015},{"s":"res_2","x":286,"y":0.0032},{"s":"res_2","x":289,"y":0},{"s":"res_2","x":292,"y":-0.0015},{"s":"res_2","x":295,"y":0.0005},{"s":"res_2","x":298,"y":-0.0005},{"s":"res_2","x":301,"y":0.001},{"s":"res_2","x":304,"y":0.0018},{"s":"res_2","x":307,"y":-0.0005},{"s":"res_2","x":310,"y":0.0008},{"s":"res_2","x":313,"y":0.002},{"s":"res_2","x":316,"y":-0.0015},{"s":"res_2","x":319,"y":0.0008},{"s":"res_2","x":322,"y":0.0018},{"s":"res_2","x":325,"y":0.0003},{"s":"res_2","x":328,"y":-0.0008},{"s":"res_2","x":331,"y":0.0005},{"s":"res_2","x":334,"y":-0.0025},{"s":"res_2","x":337,"y":0.0015},{"s":"res_2","x":340,"y":-0.0005},{"s":"res_2","x":343,"y":0.0012},{"s":"res_2","x":346,"y":0.002},{"s":"res_2","x":349,"y":0.0003},{"s":"res_2","x":352,"y":0.0008},{"s":"res_2","x":355,"y":-0.0005},{"s":"res_2","x":358,"y":0.0005},{"s":"res_2","x":359.5,"y":0.0012},
{"s":"res_3","x":1.6,"y":0.0008},{"s":"res_3","x":3.3,"y":0.0025},{"s":"res_3","x":5.4,"y":0.0015},{"s":"res_3","x":8.7,"y":0},{"s":"res_3","x":12,"y":0.0015},{"s":"res_3","x":15.2,"y":0.0005},{"s":"res_3","x":18.5,"y":0.0015},{"s":"res_3","x":21.7,"y":0.0003},{"s":"res_3","x":23.8,"y":-0.0015},{"s":"res_3","x":27,"y":-0.001},{"s":"res_3","x":30.3,"y":0.0005},{"s":"res_3","x":33.6,"y":0.0015},{"s":"res_3","x":36.8,"y":-0.0015},{"s":"res_3","x":40,"y":0.0003},{"s":"res_3","x":43,"y":0.0003},{"s":"res_3","x":45.5,"y":0.0028},{"s":"res_3","x":48.7,"y":0.0008},{"s":"res_3","x":52,"y":-0.0005},{"s":"res_3","x":55.2,"y":0.0005},{"s":"res_3","x":58,"y":-0.0008},{"s":"res_3","x":61,"y":0.0005},{"s":"res_3","x":64,"y":-0.0005},{"s":"res_3","x":67,"y":0.0008},{"s":"res_3","x":70,"y":-0.0003},{"s":"res_3","x":73,"y":0.0005},{"s":"res_3","x":76,"y":-0.0012},{"s":"res_3","x":79,"y":0.0002},{"s":"res_3","x":82,"y":0.0005},{"s":"res_3","x":85,"y":-0.0005},{"s":"res_3","x":88,"y":0.0008},{"s":"res_3","x":91,"y":-0.0003},{"s":"res_3","x":94,"y":-0.0015},{"s":"res_3","x":97,"y":-0.0005},{"s":"res_3","x":100,"y":0.001},{"s":"res_3","x":103,"y":-0.0015},{"s":"res_3","x":106,"y":0.0005},{"s":"res_3","x":109,"y":-0.0012},{"s":"res_3","x":112,"y":0.0008},{"s":"res_3","x":115,"y":-0.0005},{"s":"res_3","x":118,"y":-0.0015},{"s":"res_3","x":120.5,"y":-0.0025},{"s":"res_3","x":123,"y":-0.0008},{"s":"res_3","x":126,"y":0.0005},{"s":"res_3","x":129,"y":-0.0012},{"s":"res_3","x":132,"y":-0.0003},{"s":"res_3","x":135,"y":-0.0015},{"s":"res_3","x":138,"y":0},{"s":"res_3","x":141,"y":-0.001},{"s":"res_3","x":144,"y":-0.0005},{"s":"res_3","x":147,"y":-0.0012},{"s":"res_3","x":150,"y":0},{"s":"res_3","x":153,"y":0.0015},{"s":"res_3","x":156,"y":-0.0008},{"s":"res_3","x":159,"y":-0.0015},{"s":"res_3","x":162,"y":0},{"s":"res_3","x":165,"y":0.0005},{"s":"res_3","x":168,"y":-0.0005},{"s":"res_3","x":171,"y":0.0015},{"s":"res_3","x":174,"y":0.0003},{"s":"res_3","x":177,"y":0.0025},{"s":"res_3","x":180,"y":0.0012},{"s":"res_3","x":183,"y":0.0008},{"s":"res_3","x":186,"y":-0.0008},{"s":"res_3","x":189,"y":-0.0002},{"s":"res_3","x":192,"y":0.0012},{"s":"res_3","x":195,"y":-0.0005},{"s":"res_3","x":198,"y":0.0005},{"s":"res_3","x":201,"y":-0.0005},{"s":"res_3","x":204,"y":0.0002},{"s":"res_3","x":207,"y":-0.0008},{"s":"res_3","x":210,"y":0.0008},{"s":"res_3","x":213,"y":-0.0003},{"s":"res_3","x":216,"y":0.001},{"s":"res_3","x":219,"y":-0.0008},{"s":"res_3","x":222,"y":0.0008},{"s":"res_3","x":225,"y":-0.0012},{"s":"res_3","x":228,"y":0.0005},{"s":"res_3","x":231,"y":-0.0005},{"s":"res_3","x":234,"y":0.0008},{"s":"res_3","x":237,"y":0.0015},{"s":"res_3","x":240,"y":-0.0008},{"s":"res_3","x":243,"y":0.0008},{"s":"res_3","x":246,"y":0},{"s":"res_3","x":249,"y":-0.0012},{"s":"res_3","x":252,"y":0.0008},{"s":"res_3","x":255,"y":0.0002},{"s":"res_3","x":257.2,"y":0.004},{"s":"res_3","x":259,"y":-0.0005},{"s":"res_3","x":262,"y":0.0012},{"s":"res_3","x":265,"y":-0.0008},{"s":"res_3","x":268,"y":0.0018},{"s":"res_3","x":271,"y":-0.0025},{"s":"res_3","x":274,"y":0.0012},{"s":"res_3","x":277,"y":-0.001},{"s":"res_3","x":280,"y":0.0025},{"s":"res_3","x":283,"y":-0.0005},{"s":"res_3","x":286,"y":0.0015},{"s":"res_3","x":289,"y":-0.0028},{"s":"res_3","x":292,"y":0.0005},{"s":"res_3","x":295,"y":-0.0008},{"s":"res_3","x":298,"y":0.0003},{"s":"res_3","x":301,"y":-0.0012},{"s":"res_3","x":304,"y":0.0005},{"s":"res_3","x":307,"y":-0.0005},{"s":"res_3","x":310,"y":-0.0015},{"s":"res_3","x":313,"y":0.0003},{"s":"res_3","x":316,"y":-0.0008},{"s":"res_3","x":319,"y":0.0005},{"s":"res_3","x":322,"y":-0.0012},{"s":"res_3","x":325,"y":0.0008},{"s":"res_3","x":328,"y":-0.0005},{"s":"res_3","x":331,"y":0.001},{"s":"res_3","x":334,"y":-0.0015},{"s":"res_3","x":337,"y":-0.0008},{"s":"res_3","x":340,"y":0.0012},{"s":"res_3","x":343,"y":-0.0005},{"s":"res_3","x":346,"y":0.0008},{"s":"res_3","x":349,"y":-0.0003},{"s":"res_3","x":352,"y":0.0012},{"s":"res_3","x":355,"y":0},{"s":"res_3","x":358,"y":0.0008},{"s":"res_3","x":359.5,"y":0},
{"s":"res_4","x":1.6,"y":0.0148},{"s":"res_4","x":3.8,"y":-0.008},{"s":"res_4","x":5.8,"y":-0.0098},{"s":"res_4","x":7.5,"y":-0.009},{"s":"res_4","x":9.2,"y":-0.011},{"s":"res_4","x":12.1,"y":-0.01},{"s":"res_4","x":14,"y":-0.011},{"s":"res_4","x":17.3,"y":-0.009},{"s":"res_4","x":20.5,"y":-0.0068},{"s":"res_4","x":23.4,"y":-0.009},{"s":"res_4","x":26,"y":-0.0103},{"s":"res_4","x":28.3,"y":-0.0103},{"s":"res_4","x":29.5,"y":-0.008},{"s":"res_4","x":30.8,"y":0.0145},{"s":"res_4","x":33.1,"y":0.0195},{"s":"res_4","x":36.4,"y":0.0228},{"s":"res_4","x":38.3,"y":0.0245},{"s":"res_4","x":41.6,"y":0.0173},{"s":"res_4","x":43.9,"y":0.0233},{"s":"res_4","x":45.5,"y":0.024},{"s":"res_4","x":47.8,"y":0.022},{"s":"res_4","x":49.4,"y":0.0233},{"s":"res_4","x":50.7,"y":0.0208},{"s":"res_4","x":51.5,"y":0.01},{"s":"res_4","x":54.3,"y":-0.0065},{"s":"res_4","x":56,"y":-0.0148},{"s":"res_4","x":57.9,"y":-0.0168},{"s":"res_4","x":60.1,"y":-0.0153},{"s":"res_4","x":62,"y":-0.0165},{"s":"res_4","x":65,"y":-0.0155},{"s":"res_4","x":68,"y":-0.014},{"s":"res_4","x":70,"y":-0.0143},{"s":"res_4","x":73,"y":-0.0128},{"s":"res_4","x":75.4,"y":-0.0148},{"s":"res_4","x":78.6,"y":-0.0105},{"s":"res_4","x":81.9,"y":-0.0103},{"s":"res_4","x":85.1,"y":-0.009},{"s":"res_4","x":88.4,"y":-0.0073},{"s":"res_4","x":90.7,"y":-0.0048},{"s":"res_4","x":92.5,"y":-0.0005},{"s":"res_4","x":94,"y":0.0065},{"s":"res_4","x":95,"y":0.007},{"s":"res_4","x":97.2,"y":0.0178},{"s":"res_4","x":99.8,"y":0.0173},{"s":"res_4","x":102.4,"y":0.0103},{"s":"res_4","x":104.6,"y":0.001},{"s":"res_4","x":107,"y":0.002},{"s":"res_4","x":109.5,"y":0.012},{"s":"res_4","x":111,"y":0.016},{"s":"res_4","x":113,"y":0.012},{"s":"res_4","x":115,"y":0.011},{"s":"res_4","x":117.6,"y":0.0103},{"s":"res_4","x":119.9,"y":0.0053},{"s":"res_4","x":120.9,"y":-0.002},{"s":"res_4","x":124.1,"y":0.0103},{"s":"res_4","x":126.4,"y":0.0083},{"s":"res_4","x":129,"y":0.0045},{"s":"res_4","x":131.3,"y":0.0065},{"s":"res_4","x":134.9,"y":0.0058},{"s":"res_4","x":137.8,"y":0.0035},{"s":"res_4","x":141,"y":0.003},{"s":"res_4","x":145,"y":0.002},{"s":"res_4","x":149,"y":0.0015},{"s":"res_4","x":152,"y":0},{"s":"res_4","x":156,"y":-0.001},{"s":"res_4","x":160,"y":-0.0025},{"s":"res_4","x":163,"y":-0.005},{"s":"res_4","x":165.6,"y":-0.0065},{"s":"res_4","x":168.7,"y":-0.0098},{"s":"res_4","x":172,"y":-0.006},{"s":"res_4","x":176.1,"y":-0.0055},{"s":"res_4","x":178.4,"y":-0.0045},{"s":"res_4","x":181.6,"y":-0.0073},{"s":"res_4","x":184.9,"y":-0.0043},{"s":"res_4","x":188.2,"y":-0.0043},{"s":"res_4","x":190.1,"y":-0.0028},{"s":"res_4","x":193.4,"y":-0.0023},{"s":"res_4","x":197.9,"y":-0.0015},{"s":"res_4","x":201.2,"y":-0.0005},{"s":"res_4","x":204.4,"y":0.001},{"s":"res_4","x":207.7,"y":0.0023},{"s":"res_4","x":211,"y":0.0025},{"s":"res_4","x":214,"y":0.0028},{"s":"res_4","x":218,"y":0.003},{"s":"res_4","x":222,"y":0.0032},{"s":"res_4","x":226,"y":0.003},{"s":"res_4","x":230,"y":0.0035},{"s":"res_4","x":234.6,"y":0.0033},{"s":"res_4","x":238,"y":0.0035},{"s":"res_4","x":241,"y":0.003},{"s":"res_4","x":245.4,"y":0.0028},{"s":"res_4","x":248.6,"y":0.001},{"s":"res_4","x":251,"y":0.0015},{"s":"res_4","x":254,"y":0.003},{"s":"res_4","x":257.4,"y":0.0065},{"s":"res_4","x":259.5,"y":0.001},{"s":"res_4","x":262,"y":0},{"s":"res_4","x":264.5,"y":-0.0015},{"s":"res_4","x":266.1,"y":-0.0235},{"s":"res_4","x":267.1,"y":0.001},{"s":"res_4","x":268.2,"y":-0.0368},{"s":"res_4","x":269.1,"y":0.0005},{"s":"res_4","x":269.8,"y":-0.032},{"s":"res_4","x":270.8,"y":0},{"s":"res_4","x":271.8,"y":-0.0278},{"s":"res_4","x":273,"y":0},{"s":"res_4","x":275,"y":0.001},{"s":"res_4","x":277,"y":0.002},{"s":"res_4","x":279,"y":0.001},{"s":"res_4","x":281,"y":0.004},{"s":"res_4","x":283.9,"y":0.0103},{"s":"res_4","x":285.6,"y":0.008},{"s":"res_4","x":287.7,"y":0.006},{"s":"res_4","x":289.1,"y":-0.024},{"s":"res_4","x":291,"y":-0.003},{"s":"res_4","x":292.5,"y":0.0083},{"s":"res_4","x":296.4,"y":0.0135},{"s":"res_4","x":298.6,"y":0.0133},{"s":"res_4","x":301,"y":0.0108},{"s":"res_4","x":303.2,"y":0.0128},{"s":"res_4","x":305.2,"y":0.0128},{"s":"res_4","x":308.4,"y":0.0173},{"s":"res_4","x":310.4,"y":0.0165},{"s":"res_4","x":312.2,"y":0.0185},{"s":"res_4","x":313.9,"y":0.024},{"s":"res_4","x":317.2,"y":0.0185},{"s":"res_4","x":320.5,"y":0.0248},{"s":"res_4","x":324.1,"y":-0.018},{"s":"res_4","x":325.7,"y":-0.0115},{"s":"res_4","x":328.7,"y":-0.0128},{"s":"res_4","x":332.1,"y":-0.014},{"s":"res_4","x":336.3,"y":-0.0103},{"s":"res_4","x":337.7,"y":-0.0065},{"s":"res_4","x":339.6,"y":-0.0055},{"s":"res_4","x":341.9,"y":-0.0085},{"s":"res_4","x":345.1,"y":-0.0073},{"s":"res_4","x":347.4,"y":-0.008},{"s":"res_4","x":350.7,"y":-0.0043},{"s":"res_4","x":352.6,"y":-0.0048},{"s":"res_4","x":355.5,"y":-0.0055},{"s":"res_4","x":357.1,"y":-0.0073},{"s":"res_4","x":359.1,"y":0.0028}
],
"notes":[
{"s":"txt_cw","x":15.3,"y":0.08125,"t":"Data−(c0+c1∗az\u2002from\u2002fit)\u2002clockwise\u2002spin"},
{"s":"txt_ccw","x":15.3,"y":0.07,"t":"Data−(c0+c1∗az\u2002from\u2002fit)\u2002CCW\u2002spin"},
{"s":"txt_res","x":15.3,"y":0.05875,"t":"fit\u2002residuals:\u20020.011\u2002deg"},
{"s":"txt_cw","x":15.3,"y":0.0475,"t":"TdPos:14.133,\u200215.530,\u200215.822"},
{"s":"txt_cw","x":11.4,"y":-0.03,"t":"Pitch=\u20020.6066\u2002\u2002+\u20020.0000∗za\u2002\u2002+2.23e−05∗az\u2002+"},
{"s":"txt_cw","x":11.4,"y":-0.0365,"t":"za:\u200210\u20020.0176∗sin(\u2002az\u2002−\u2002105.1)\u2002+"},
{"s":"txt_cw","x":43.2,"y":-0.043,"t":"0.0205∗sin(3az\u2002−\u2002320.0)"},
{"s":"txt_ccw","x":11.4,"y":-0.051,"t":"Pitch=\u20020.6276\u2002\u2002+\u20020.0000∗za\u2002\u2002+3.48e−06∗az\u2002+"},
{"s":"txt_ccw","x":11.4,"y":-0.0575,"t":"za:\u200210\u20020.0034∗sin(\u2002az\u2002−\u2002\u200278.5)\u2002+"},
{"s":"txt_ccw","x":43.2,"y":-0.064,"t":"0.0192∗sin(3az\u2002−\u2002307.2)"},
{"s":"txt_res","x":11.4,"y":-0.072,"t":"Pitch=\u20020.6286\u2002\u2002+\u20020.0000∗za\u2002\u2002+1.51e−06∗az\u2002+"},
{"s":"txt_res","x":11.4,"y":-0.0785,"t":"za:\u200210\u20020.0039∗sin(\u2002az\u2002−\u2002\u200259.1)\u2002+"},
{"s":"txt_res","x":43.2,"y":-0.085,"t":"0.0196∗sin(3az\u2002−\u2002304.3)"},
{"s":"txt_fit","x":11.4,"y":-0.093,"t":"Pitch=\u20020.6293\u2002\u2002+\u20020.0000∗za\u2002\u2002−2.05e−06∗az\u2002+"},
{"s":"txt_fit","x":11.4,"y":-0.0995,"t":"za:\u200210\u20020.0032∗sin(\u2002az\u2002−\u2002\u200285.8)\u2002+"},
{"s":"txt_fit","x":43.2,"y":-0.106,"t":"0.0191∗sin(3az\u2002−\u2002305.3)"}
]
},
"layer":[
{
"data":{"name":"lines"},
"mark":{"type":"line","strokeWidth":1.2},
"encoding":{
"x":{"field":"x","type":"quantitative","scale":{"domain":[0,365.6],"nice":false,"zero":false},
 "axis":{"orient":"bottom","values":[0,100,200,300],"tickSize":-16,"tickColor":"#000","tickWidth":1,"labelPadding":32,"labelFont":"DejaVu Sans","labelFontSize":26,"labelFontWeight":200,"labelColor":"#222","labelFlush":false,"labelOverlap":false,"domainColor":"#333","domainWidth":1.2,"grid":false,"title":null}},
"y":{"field":"y","type":"quantitative","scale":{"domain":[-0.1,0.1],"nice":false,"zero":false},
 "axis":{"orient":"left","values":[-0.1,-0.05,0,0.05,0.1],"format":".2f","tickSize":-22,"tickColor":"#000","tickWidth":1,"labelPadding":33,"labelFont":"DejaVu Sans","labelFontSize":26,"labelFontWeight":200,"labelColor":"#222","labelFlush":true,"labelOverlap":false,"domainColor":"#333","domainWidth":1.2,"grid":false,
 "title":"pitch","titleFont":"DejaVu Sans","titleFontSize":20,"titleFontWeight":200,"titleColor":"#222","titleX":-118,"titleY":387,"titleAngle":270,"titleAlign":"center","titleBaseline":"middle"}},
"color":{"field":"s","type":"nominal","legend":null,
 "scale":{"domain":["cw_1","cw_2","ccw_1","ccw_2","res_1","res_2","res_3","res_4","txt_cw","txt_ccw","txt_res","txt_fit"],
 "range":["#000000","#000000","#ff0000","#ff0000","#00c800","#00c800","#00c800","#00c800","#000000","#ff0000","#00c800","#3333ff"]}}
}
},
{
"data":{"name":"notes"},
"mark":{"type":"text","align":"left","baseline":"alphabetic","font":"DejaVu Sans","fontSize":27.5,"fontWeight":200},
"encoding":{
"x":{"field":"x","type":"quantitative","scale":{"domain":[0,365.6],"nice":false,"zero":false},
 "axis":{"orient":"bottom","values":[10,20,30,40,50,60,70,80,90,110,120,130,140,150,160,170,180,190,210,220,230,240,250,260,270,280,290,310,320,330,340,350,360],"tickSize":-8,"tickColor":"#000","tickWidth":1,"labels":false,"domain":false,"grid":false,"title":null}},
"y":{"field":"y","type":"quantitative","scale":{"domain":[-0.1,0.1],"nice":false,"zero":false},
 "axis":{"orient":"left","values":[-0.09,-0.08,-0.07,-0.06,-0.04,-0.03,-0.02,-0.01,0.01,0.02,0.03,0.04,0.06,0.07,0.08,0.09],"tickSize":-11,"tickColor":"#000","tickWidth":1,"labels":false,"domain":false,"grid":false,"title":null}},
"text":{"field":"t"},
"color":{"field":"s","type":"nominal","legend":null,
 "scale":{"domain":["cw_1","cw_2","ccw_1","ccw_2","res_1","res_2","res_3","res_4","txt_cw","txt_ccw","txt_res","txt_fit"],
 "range":["#000000","#000000","#ff0000","#ff0000","#00c800","#00c800","#00c800","#00c800","#000000","#ff0000","#00c800","#3333ff"]}}
}
},
{
"data":{"name":"notes"},
"mark":{"type":"point","opacity":0},
"encoding":{
"x":{"field":"x","type":"quantitative","scale":{"domain":[0,365.6],"nice":false,"zero":false},
 "axis":{"orient":"top","values":[0,100,200,300],"tickSize":-16,"tickColor":"#000","tickWidth":1,"labels":false,"domainColor":"#333","domainWidth":1.2,"grid":false,"title":null}},
"y":{"field":"y","type":"quantitative","scale":{"domain":[-0.1,0.1],"nice":false,"zero":false},
 "axis":{"orient":"right","values":[-0.1,-0.05,0,0.05,0.1],"tickSize":-22,"tickColor":"#000","tickWidth":1,"labels":false,"domainColor":"#333","domainWidth":1.2,"grid":false,"title":null}}
}
},
{
"data":{"name":"notes"},
"mark":{"type":"point","opacity":0},
"encoding":{
"x":{"field":"x","type":"quantitative","scale":{"domain":[0,365.6],"nice":false,"zero":false},
 "axis":{"orient":"top","values":[10,20,30,40,50,60,70,80,90,110,120,130,140,150,160,170,180,190,210,220,230,240,250,260,270,280,290,310,320,330,340,350,360],"tickSize":-8,"tickColor":"#000","tickWidth":1,"labels":false,"domain":false,"grid":false,"title":null}},
"y":{"field":"y","type":"quantitative","scale":{"domain":[-0.1,0.1],"nice":false,"zero":false},
 "axis":{"orient":"right","values":[-0.09,-0.08,-0.07,-0.06,-0.04,-0.03,-0.02,-0.01,0.01,0.02,0.03,0.04,0.06,0.07,0.08,0.09],"tickSize":-11,"tickColor":"#000","tickWidth":1,"labels":false,"domain":false,"grid":false,"title":null}}
}
}
]
}
